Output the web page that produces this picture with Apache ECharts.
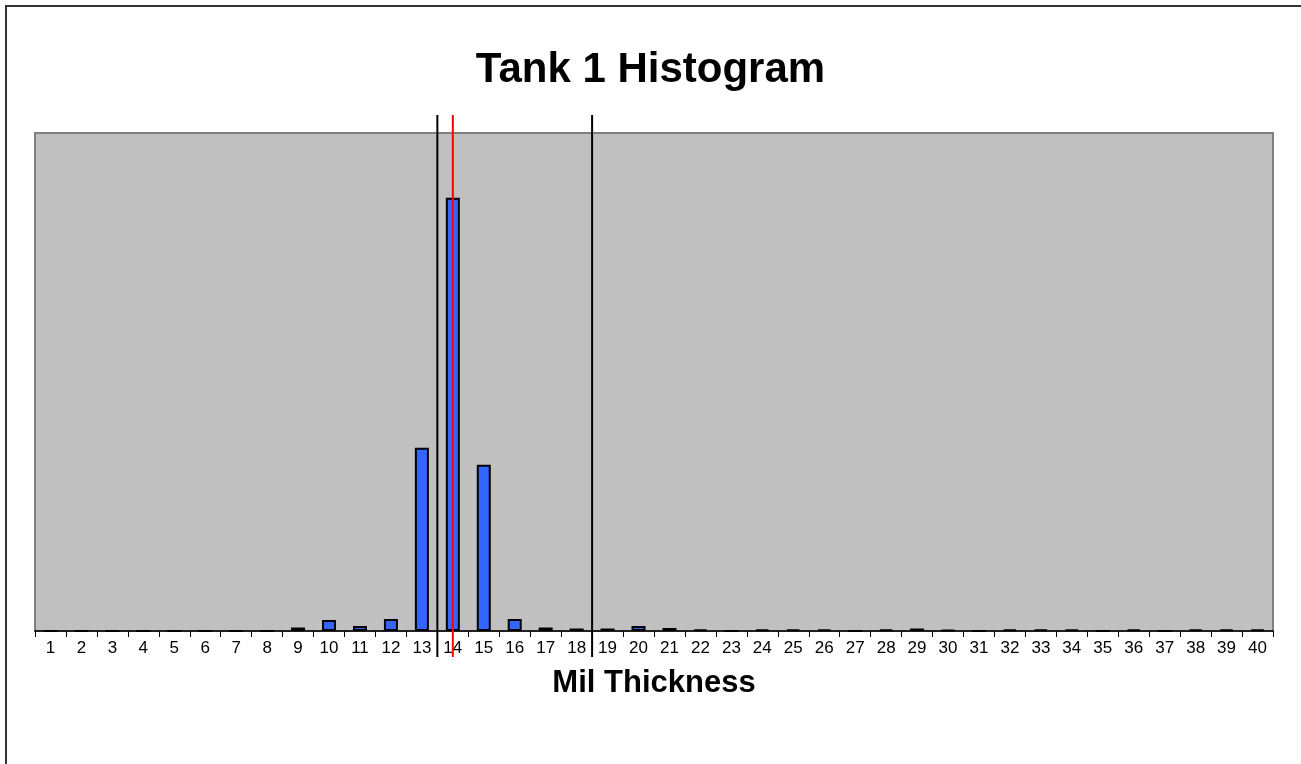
<!DOCTYPE html>
<html>
<head>
<meta charset="utf-8">
<script src="https://cdn.jsdelivr.net/npm/echarts@6/dist/echarts.min.js"></script>
<style>
  html, body { margin: 0; padding: 0; background: #fff; }
  #main { width: 1301px; height: 764px; }
</style>
</head>
<body>
<div id="main"></div>
<script>
// mil thickness bins
const categories = ['1','2','3','4','5','6','7','8','9','10','11','12','13','14','15','16','17','18','19','20',
  '21','22','23','24','25','26','27','28','29','30','31','32','33','34','35','36','37','38','39','40'];
// readings per bin
const counts = [0,0,0,0,0,0,0,0,3.5,11,5,12,184,435,167,12,3.5,2.5,2.5,5,
  3,1.5,0,1.5,1.5,1.5,0,1.5,2.5,1,0,1.5,1.5,1.5,0,1.5,0,1.5,1.5,1.5];
// limit lines (lower / target / upper), in bin units
const lowerLimit = 13.5;
const targetLine = 14;
const upperLimit = 18.5;
const lineSpan = [-26, 518];

const chartDom = document.getElementById('main');
const myChart = echarts.init(chartDom);

function vline(x, color) {
    return {
        type: 'line',
        xAxisIndex: 1,
        data: [[x, lineSpan[0]], [x, lineSpan[1]]],
        symbol: 'none',
        clip: false,
        silent: true,
        z: 5,
        lineStyle: { color: color, width: 2 }
    };
}

const option = {
    animation: false,
    backgroundColor: '#ffffff',
    textStyle: { fontFamily: 'Liberation Sans, Arial, sans-serif' },
    title: {
        text: 'Tank 1 Histogram',
        left: 'center',
        top: 44,
        textStyle: { fontSize: 42, fontWeight: 'bold', color: '#000', fontFamily: 'Liberation Sans, Arial, sans-serif' }
    },
    graphic: [{
        type: 'rect',
        shape: { x: 6, y: 6, width: 1400, height: 900 },
        style: { fill: 'none', stroke: '#333', lineWidth: 2 },
        silent: true
    }],
    grid: {
        left: 35, right: 28, top: 133, bottom: 133,
        show: true,
        backgroundColor: '#c0c0c0',
        borderColor: '#808080',
        borderWidth: 2
    },
    xAxis: [{
        type: 'category',
        data: categories,
        name: 'Mil Thickness',
        nameLocation: 'middle',
        nameGap: 37,
        nameTextStyle: { fontSize: 31, fontWeight: 'bold', color: '#000', fontFamily: 'Liberation Sans, Arial, sans-serif' },
        axisLine: { lineStyle: { color: '#000', width: 1.5 } },
        axisTick: { show: true, length: 6, lineStyle: { color: '#000' } },
        axisLabel: { fontSize: 17, color: '#000', margin: 9, interval: 0 }
    }, {
        type: 'value',
        min: 0.5,
        max: 40.5,
        show: false
    }],
    yAxis: {
        type: 'value',
        min: 0,
        max: 500,
        show: false,
        splitLine: { show: false }
    },
    series: [
        {
            type: 'bar',
            data: counts,
            barWidth: 14,
            itemStyle: { color: '#3366ff', borderColor: '#000', borderWidth: 2 }
        },
        vline(lowerLimit, '#000'),
        vline(upperLimit, '#000'),
        vline(targetLine, '#ff0000')
    ]
};
option && myChart.setOption(option);
</script>
</body>
</html>
